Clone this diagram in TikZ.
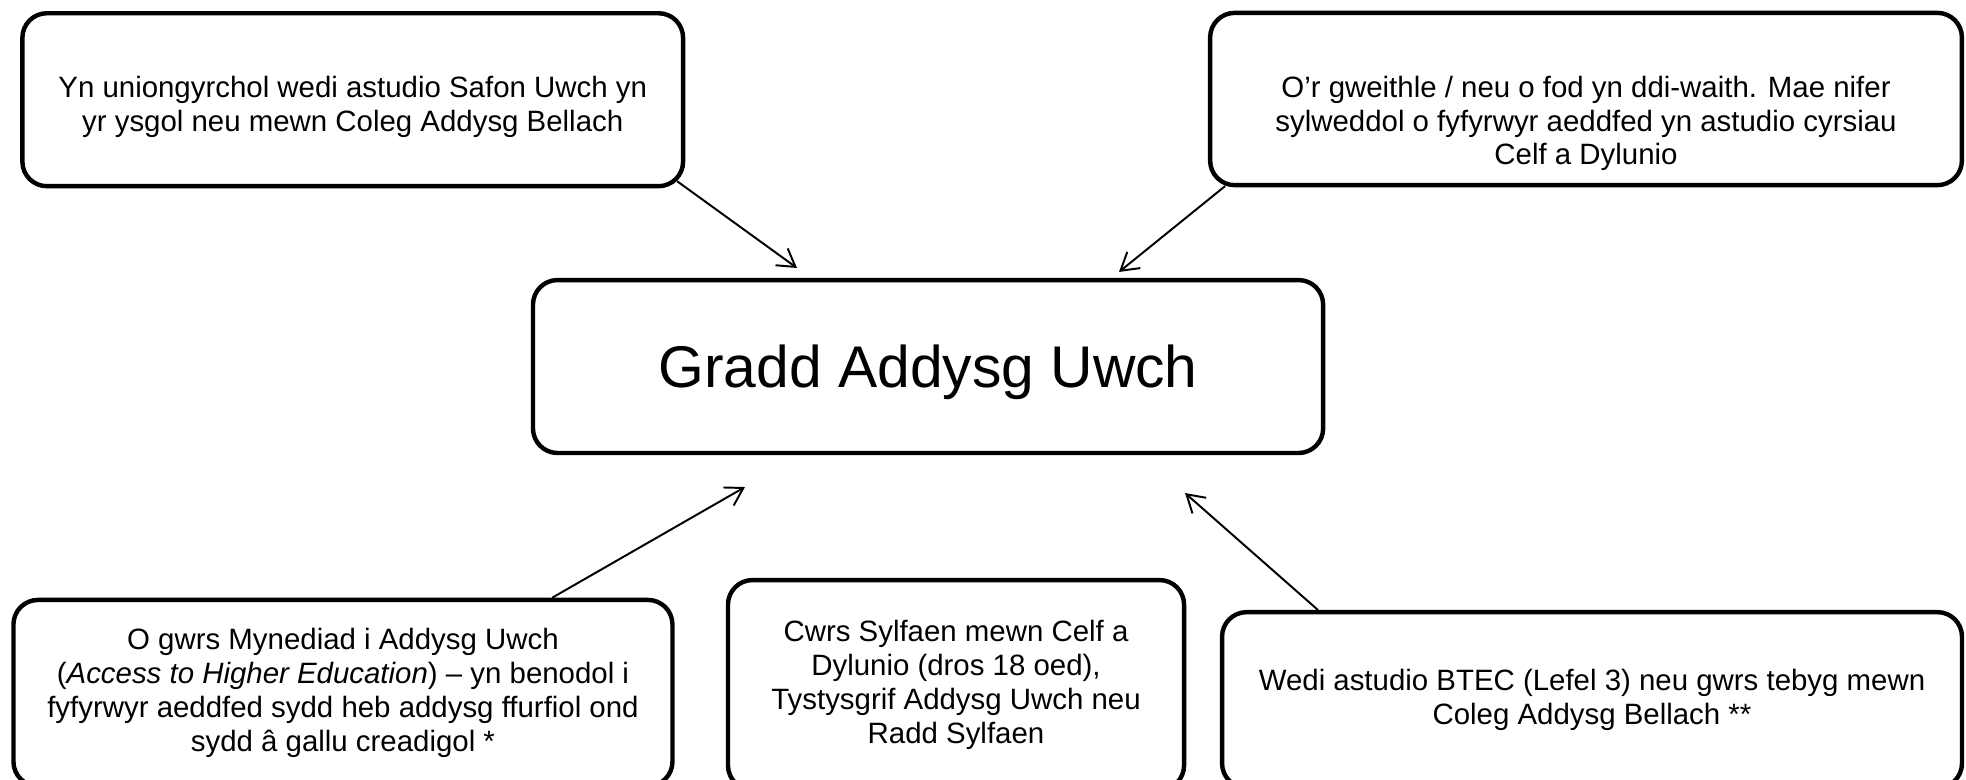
\documentclass[tikz,border=0pt]{standalone}
\usepackage{fontspec}
\setmainfont{Liberation Sans}
\usetikzlibrary{arrows.meta}

\begin{document}
\begin{tikzpicture}[
  box/.style={draw, line width=1.8pt, rounded corners=10pt, align=center,
    inner sep=0pt, font=\fontsize{12}{13.8}\selectfont},
  boxtext/.style={anchor=north, align=center, inner sep=0pt,
    font=\fontsize{12}{13.8}\selectfont},
  >={Straight Barb[length=7pt,width=8.5pt]}
]
\useasboundingbox (0,0) rectangle (28.192,-11.185);

\node[box, minimum width=11.33cm, minimum height=2.48cm, text depth=0pt, font=\fontsize{24}{28}\selectfont] (C) at (13.308,-5.256) {Gradd Addysg Uwch};

% top boxes: text sits near the top
\node[box, minimum width=9.474cm, minimum height=2.48cm] (TL) at (5.058,-1.430) {};
\node[boxtext] (TLtext) at ([yshift=-0.93cm]TL.north) {Yn uniongyrchol wedi astudio Safon Uwch yn\\ yr ysgol neu mewn Coleg Addysg Bellach};
\node[box, minimum width=10.78cm, minimum height=2.47cm] (TR) at (22.743,-1.420) {};
\node[boxtext] (TRtext) at ([yshift=-0.93cm]TR.north) {O’r gweithle / neu o fod yn ddi-waith. Mae nifer\\ sylweddol o fyfyrwyr aeddfed yn astudio cyrsiau\\ Celf a Dylunio};

\node[box, minimum width=9.45cm, minimum height=2.67cm] (BL) at (4.918,-9.938) {O gwrs Mynediad i Addysg Uwch\\ (\textit{Access to Higher Education}) – yn benodol i\\ fyfyrwyr aeddfed sydd heb addysg ffurfiol ond\\ sydd â gallu creadigol *};
\node[box, minimum width=6.54cm, minimum height=3.01cm] (BM) at (13.709,-9.823) {Cwrs Sylfaen mewn Celf a\\ Dylunio (dros 18 oed),\\ Tystysgrif Addysg Uwch neu\\ Radd Sylfaen};
\node[box, minimum width=10.61cm, minimum height=2.52cm] (BR) at (22.829,-10.038) {Wedi astudio BTEC (Lefel 3) neu gwrs tebyg mewn\\ Coleg Addysg Bellach **};

% arrow tips, short of the centre box
\coordinate (a1) at (11.429,-3.843);
\coordinate (a2) at (16.046,-3.900);
\coordinate (a3) at (10.683,-6.984);
\coordinate (a4) at (16.993,-7.070);

\draw[line width=0.8pt, ->] ([xshift=-3.3pt,yshift=2.9pt]TL.south east) -- (a1);
\draw[line width=0.8pt, ->] ([xshift=7pt,yshift=0.5pt]TR.south west) -- (a2);
\draw[line width=0.8pt, ->] ([xshift=3cm]BL.north) -- (a3);
\draw[line width=0.8pt, ->] ([xshift=40pt]BR.north west) -- (a4);
\end{tikzpicture}
\end{document}
